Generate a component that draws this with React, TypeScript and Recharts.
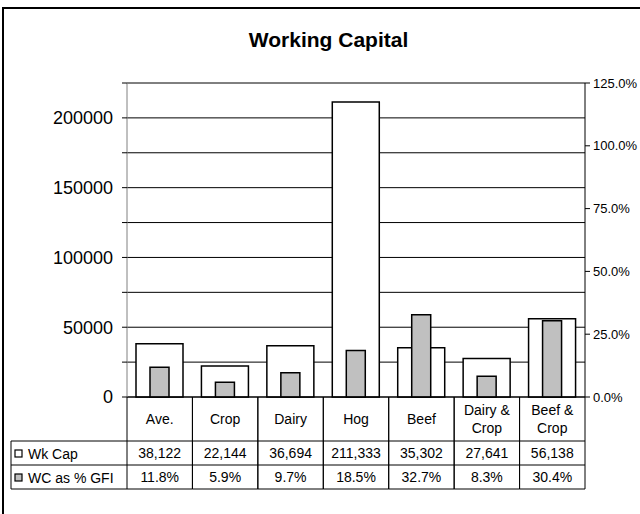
import { ComposedChart, Bar, XAxis, YAxis, CartesianGrid } from "recharts";

const categories = ["Ave.", "Crop", "Dairy", "Hog", "Beef", "Dairy & Crop", "Beef & Crop"];
const wkCap = [38122, 22144, 36694, 211333, 35302, 27641, 56138];
const wcPctGfi = [11.8, 5.9, 9.7, 18.5, 32.7, 8.3, 30.4];
const seriesNames = ["Wk Cap", "WC as % GFI"];
const leftTicks = [0, 25000, 50000, 75000, 100000, 125000, 150000, 175000, 200000, 225000];
const rightTicks = [0, 25, 50, 75, 100, 125];

const data = categories.map((name, i) => ({ name, wkCap: wkCap[i], wcPct: wcPctGfi[i] }));

const FONT = "'Liberation Sans', Arial, Helvetica, sans-serif";
const CAT_ROW = 44;
const VAL_ROW = 24;
const LEGEND_LEFT = 11;
const GRAY = "#C0C0C0";

function TableTick(props: any) {
  const { x, y, payload } = props;
  const half = payload?.offset ?? 458 / 14;
  const i = categories.indexOf(payload.value);
  const left = x - half;
  const right = x + half;
  const r1 = y + CAT_ROW;
  const r2 = r1 + VAL_ROW;
  const r3 = r2 + VAL_ROW;
  const label = String(payload.value);
  const parts = label.includes(" & ") ? [label.split(" & ")[0] + " &", label.split(" & ")[1]] : [label];
  const line = { stroke: "#000", strokeWidth: 1 };
  const txt = { fontSize: 14, fill: "#000", textAnchor: "middle" as const, dominantBaseline: "central" as const };

  return (
    <g>
      <line x1={left} y1={y} x2={left} y2={r3} {...line} />
      <line x1={right} y1={y} x2={right} y2={r3} {...line} />
      <line x1={left} y1={r1} x2={right} y2={r1} {...line} />
      <line x1={left} y1={r2} x2={right} y2={r2} {...line} />
      <line x1={left} y1={r3} x2={right} y2={r3} {...line} />
      {parts.length === 1 ? (
        <text x={x} y={y + CAT_ROW / 2} {...txt}>{parts[0]}</text>
      ) : (
        <>
          <text x={x} y={y + 13} {...txt}>{parts[0]}</text>
          <text x={x} y={y + 31} {...txt}>{parts[1]}</text>
        </>
      )}
      <text x={x} y={r1 + VAL_ROW / 2} {...txt}>{wkCap[i].toLocaleString("en-US")}</text>
      <text x={x} y={r2 + VAL_ROW / 2} {...txt}>{wcPctGfi[i].toFixed(1)}%</text>
      {i === 0 && (
        <g>
          <line x1={LEGEND_LEFT} y1={r1} x2={left} y2={r1} {...line} />
          <line x1={LEGEND_LEFT} y1={r2} x2={left} y2={r2} {...line} />
          <line x1={LEGEND_LEFT} y1={r3} x2={left} y2={r3} {...line} />
          <line x1={LEGEND_LEFT} y1={r1} x2={LEGEND_LEFT} y2={r3} {...line} />
          <rect x={15} y={r1 + 9} width={7} height={7} fill="#fff" stroke="#000" strokeWidth={1.2} />
          <rect x={15} y={r2 + 9} width={7} height={7} fill={GRAY} stroke="#000" strokeWidth={1.2} />
          <text x={28} y={r1 + VAL_ROW / 2 + 1} fontSize={14} fill="#000" dominantBaseline="central">{seriesNames[0]}</text>
          <text x={28} y={r2 + VAL_ROW / 2 + 1} fontSize={14} fill="#000" dominantBaseline="central">{seriesNames[1]}</text>
        </g>
      )}
    </g>
  );
}

export default function App() {
  return (
    <div style={{ position: "absolute", left: 0, top: 0, width: 640, height: 514, overflow: "hidden", background: "#fff", fontFamily: FONT }}>
      <div style={{ position: "absolute", left: 2, top: 7, width: 720, height: 600, border: "2px solid #000" }} />
      <div style={{ position: "absolute", left: 0, top: 29, width: 657, textAlign: "center", fontSize: 21, lineHeight: "21px", fontWeight: "bold", color: "#000" }}>
        Working Capital
      </div>
      <div style={{ position: "absolute", left: 0, top: 0 }}>
        <ComposedChart width={640} height={514} data={data} margin={{ top: 83, right: 5, bottom: 25, left: 67 }}>
          <CartesianGrid xAxisId="a" yAxisId="left" vertical={false} stroke="#000" strokeWidth={1} />
          <XAxis
            xAxisId="a"
            dataKey="name"
            height={92}
            interval={0}
            tickSize={0}
            tickMargin={0}
            tickLine={false}
            axisLine={{ stroke: "#000" }}
            tick={<TableTick />}
          />
          <XAxis xAxisId="b" dataKey="name" hide />
          <YAxis
            yAxisId="left"
            orientation="left"
            width={60}
            domain={[0, 225000]}
            ticks={leftTicks}
            interval={0}
            tickSize={5}
            tickMargin={9}
            tickFormatter={(v: number) => (v % 50000 === 0 ? String(v) : "")}
            tick={{ fontSize: 18, fill: "#000" }}
            axisLine={{ stroke: "#808080" }}
            tickLine={{ stroke: "#000" }}
          />
          <YAxis
            yAxisId="right"
            orientation="right"
            width={50}
            domain={[0, 125]}
            ticks={rightTicks}
            interval={0}
            tickSize={5}
            tickMargin={3}
            tickFormatter={(v: number) => v.toFixed(1) + "%"}
            tick={{ fontSize: 13, fill: "#000" }}
            axisLine={{ stroke: "#000" }}
            tickLine={{ stroke: "#000" }}
          />
          <Bar xAxisId="a" yAxisId="left" dataKey="wkCap" fill="#fff" stroke="#000" strokeWidth={1.5} barSize={47} isAnimationActive={false} />
          <Bar xAxisId="b" yAxisId="right" dataKey="wcPct" fill={GRAY} stroke="#000" strokeWidth={1.5} barSize={19} isAnimationActive={false} />
        </ComposedChart>
      </div>
    </div>
  );
}
